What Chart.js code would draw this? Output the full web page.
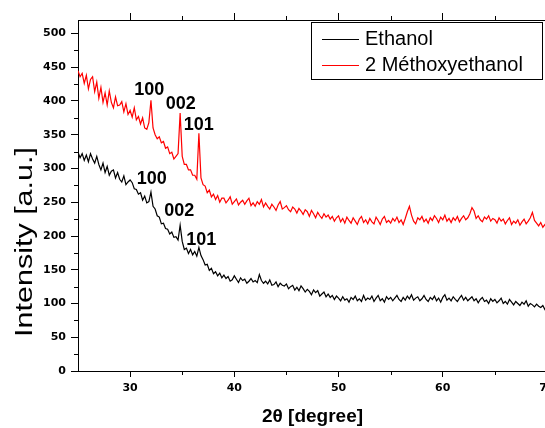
<!DOCTYPE html>
<html>
<head>
<meta charset="utf-8">
<script src="https://cdn.jsdelivr.net/npm/chart.js@4.4.1/dist/chart.umd.min.js"></script>
<style>
  html, body { margin:0; padding:0; background:#fff; overflow:hidden; }
  #wrap { width:560px; height:428px; }
</style>
</head>
<body>
<div id="wrap"><canvas id="xrd" width="560" height="428"></canvas></div>
<script>
// XRD scans, 25-70 deg, one reading every 0.2 deg
const SCAN_START = 25;
const SCAN_STEP = 0.2;

const ethanol = [
  324, 316, 322, 312, 320, 310, 322, 314, 308, 318,
  306, 298, 308, 294, 303, 290, 296, 298, 286, 294,
  284, 280, 289, 276, 280, 283, 279, 270, 269, 262,
  264, 253, 259, 249, 251, 265, 244, 240, 230, 228,
  218, 219, 211, 210, 203, 206, 198, 199, 194, 216,
  192, 180, 182, 174, 180, 172, 177, 170, 183, 171,
  165, 157, 158, 149, 152, 144, 147, 141, 145, 138,
  142, 137, 140, 133, 135, 141, 136, 131, 138, 134,
  136, 130, 133, 137, 132, 134, 131, 143, 134, 130,
  133, 129, 135, 127, 128, 132, 125, 130, 127, 126,
  129, 122, 125, 127, 120, 124, 119, 126, 122, 117,
  121, 118, 113, 120, 116, 119, 111, 114, 117, 110,
  114, 109, 112, 106, 111, 108, 104, 110, 105, 107,
  102, 109, 106, 111, 104, 107, 103, 112, 105, 108,
  106, 111, 103, 108, 112, 104, 107, 102, 110, 106,
  109, 104, 108, 112, 106, 103, 109, 105, 111, 107,
  113, 105, 108, 110, 104, 107, 112, 106, 103, 109,
  106, 111, 104, 108, 102, 109, 113, 105, 108, 104,
  110, 106, 103, 108, 112, 105, 109, 104, 107, 110,
  104, 107, 101, 106, 109, 103, 105, 100, 107, 103,
  106, 101, 104, 108, 100, 103, 99, 106, 102, 98,
  103, 100, 97, 102, 99, 104, 96, 100, 98, 95,
  99, 96, 94, 97, 91, 93
];

const methoxyethanol = [
  445, 436, 441, 426, 438, 418, 432, 436, 414, 428,
  404, 420, 398, 412, 394, 415, 398, 390, 406, 393,
  394, 399, 384, 396, 380, 386, 376, 390, 372, 377,
  366, 375, 360, 358, 368, 401, 360, 350, 344, 347,
  338, 340, 330, 332, 322, 324, 314, 318, 322, 382,
  318, 306, 306, 298, 298, 290, 290, 284, 352, 286,
  276, 274, 264, 268, 258, 262, 254, 260, 250, 256,
  256, 249, 253, 258, 247, 251, 255, 246, 250, 253,
  247, 252, 256, 245, 249, 244, 251, 247, 254, 243,
  249, 244, 240, 247, 243, 238, 246, 251, 240, 242,
  245, 239, 236, 243, 240, 234, 241, 237, 232, 239,
  236, 229, 238, 233, 227, 235, 230, 226, 233, 228,
  231, 225, 229, 222, 227, 230, 221, 226, 219, 228,
  223, 219, 227, 222, 217, 225, 229, 220, 224, 218,
  226, 221, 218, 228, 223, 217, 225, 229, 220, 223,
  219, 226, 222, 228, 220, 224, 217, 226, 236, 244,
  231, 222, 218, 227, 224, 229, 221, 225, 219, 227,
  223, 230, 226, 220, 228, 224, 231, 222, 226, 220,
  227, 223, 229, 221, 226, 230, 224, 227, 233, 242,
  237, 226, 230, 224, 221, 228, 225, 230, 222, 226,
  224, 219, 227, 222, 225, 218, 223, 227, 217, 222,
  219, 224, 216, 221, 225, 218, 222, 227, 235, 223,
  219, 215, 220, 213, 217, 212
];

const twoTheta = ethanol.map((_, i) => +(SCAN_START + i * SCAN_STEP).toFixed(1));

const xTicks = [30, 40, 50, 60, 70];
const xMinor = [35, 45, 55, 65];
const yTicks = [0, 50, 100, 150, 200, 250, 300, 350, 400, 450, 500];
const yMinor = [25, 75, 125, 175, 225, 275, 325, 375, 425, 475];

// hkl reflections, label anchor in (2theta, intensity)
const hkl = ['100', '002', '101'];
const methoxyLabelAt = [[31.83, 416], [34.86, 396], [36.59, 365]];
const ethanolLabelAt = [[32.07, 284], [34.71, 237], [36.83, 194]];

const tickFont = { family: 'DejaVu Sans', size: 11, weight: 'bold' };

const pts = arr => arr.map((v, i) => ({ x: twoTheta[i], y: v }));

const minorTicks = {
  id: 'minorTicks',
  afterDraw(chart) {
    const { ctx, scales: { x, y, xTop } } = chart;
    ctx.save();
    ctx.strokeStyle = '#000';
    ctx.lineWidth = 1;
    ctx.beginPath();
    xMinor.forEach(v => {
      const px = Math.round(x.getPixelForValue(v)) + 0.5;
      ctx.moveTo(px, x.top); ctx.lineTo(px, x.top + 4);
      ctx.moveTo(px, xTop.bottom); ctx.lineTo(px, xTop.bottom - 4);
    });
    yMinor.forEach(v => {
      const py = Math.round(y.getPixelForValue(v)) + 0.5;
      ctx.moveTo(y.right - 4, py); ctx.lineTo(y.right, py);
    });
    ctx.stroke();
    ctx.restore();
  }
};

const peakLabels = {
  id: 'peakLabels',
  afterDatasetsDraw(chart) {
    const { ctx, scales: { x, y } } = chart;
    ctx.save();
    ctx.fillStyle = '#000';
    ctx.font = 'bold 18px "Liberation Sans", Arial, sans-serif';
    ctx.textAlign = 'center';
    ctx.textBaseline = 'middle';
    [methoxyLabelAt, ethanolLabelAt].forEach(list => {
      list.forEach(([tt, v], i) => {
        ctx.fillText(hkl[i], x.getPixelForValue(tt), y.getPixelForValue(v));
      });
    });
    ctx.restore();
  }
};

// boxed legend in the top-right corner of the plot
const boxLegend = {
  id: 'boxLegend',
  afterDraw(chart) {
    const { ctx, chartArea } = chart;
    const right = chartArea.right - 5, top = chartArea.top + 2;
    const w = 231, h = 57, left = right - w;
    ctx.save();
    ctx.fillStyle = '#fff';
    ctx.fillRect(left, top, w, h);
    ctx.strokeStyle = '#000';
    ctx.lineWidth = 1;
    ctx.strokeRect(left + 0.5, top + 0.5, w, h);
    ctx.font = '20px "Liberation Sans", Arial, sans-serif';
    ctx.textBaseline = 'middle';
    chart.data.datasets.forEach((ds, i) => {
      const yy = top + 17.5 + i * 26;
      ctx.strokeStyle = ds.borderColor;
      ctx.beginPath();
      ctx.moveTo(left + 11, yy); ctx.lineTo(left + 48, yy);
      ctx.stroke();
      ctx.fillStyle = '#000';
      ctx.fillText(ds.label, left + 54, yy - 0.5);
    });
    ctx.restore();
  }
};

// y title is drawn stretched along its length
const yTitle = {
  id: 'yTitle',
  afterDraw(chart) {
    const { ctx } = chart;
    const text = 'Intensity [a.u.]';
    ctx.save();
    ctx.font = '23px "Liberation Sans", Arial, sans-serif';
    ctx.fillStyle = '#000';
    ctx.textAlign = 'center';
    ctx.textBaseline = 'middle';
    ctx.translate(26, 242);
    ctx.rotate(-Math.PI / 2);
    ctx.scale(190 / ctx.measureText(text).width, 1);
    ctx.fillText(text, 0, 0);
    ctx.restore();
  }
};

new Chart(document.getElementById('xrd'), {
  type: 'line',
  data: {
    datasets: [
      { label: 'Ethanol', data: pts(ethanol), borderColor: '#000000',
        borderWidth: 1.2, pointRadius: 0, tension: 0, fill: false },
      { label: '2 Méthoxyethanol', data: pts(methoxyethanol), borderColor: '#ff0000',
        borderWidth: 1.2, pointRadius: 0, tension: 0, fill: false }
    ]
  },
  options: {
    responsive: false,
    animation: false,
    devicePixelRatio: 1,
    layout: { padding: { top: 20, right: 13, left: 0, bottom: 0 } },
    plugins: { legend: { display: false }, tooltip: { enabled: false } },
    scales: {
      x: {
        type: 'linear', position: 'bottom', min: 25, max: 70,
        afterBuildTicks: s => { s.ticks = xTicks.map(v => ({ value: v })); },
        afterFit: s => { s.height = 57; },
        grid: { drawOnChartArea: false, tickLength: 6, tickColor: '#000' },
        border: { color: '#000', width: 1 },
        ticks: { font: tickFont, color: '#000', padding: 5, maxRotation: 0, autoSkip: false },
        title: {
          display: true, text: '2θ [degree]', color: '#000',
          font: { family: 'Liberation Sans', size: 19, weight: 'bold', lineHeight: 1.2 },
          padding: { top: 0, bottom: 0 }
        }
      },
      xTop: {
        type: 'linear', position: 'top', min: 25, max: 70,
        afterBuildTicks: s => { s.ticks = xTicks.map(v => ({ value: v })); },
        afterFit: s => { s.height = 0; },
        grid: { drawOnChartArea: false, tickLength: 7, tickColor: '#000' },
        border: { color: '#000', width: 1 },
        ticks: { display: false }
      },
      y: {
        type: 'linear', position: 'left', min: 0, max: 520,
        afterBuildTicks: s => { s.ticks = yTicks.map(v => ({ value: v })); },
        afterFit: s => { s.width = 78; },
        grid: { drawOnChartArea: false, tickLength: 7, tickColor: '#000' },
        border: { color: '#000', width: 1 },
        ticks: { font: tickFont, color: '#000', padding: 5 }
      }
    }
  },
  plugins: [minorTicks, peakLabels, boxLegend, yTitle]
});
</script>
</body>
</html>
